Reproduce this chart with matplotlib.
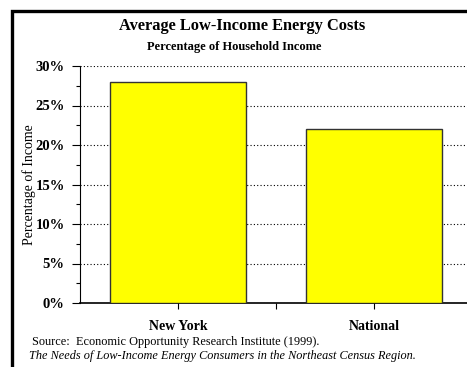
# Average low-income energy costs as share of household income

import matplotlib.pyplot as plt
from matplotlib.patches import Rectangle
from matplotlib.ticker import MultipleLocator, FuncFormatter

categories = ['New York', 'National']
values = [28, 22]

plt.rcParams['font.family'] = 'Liberation Serif'

fig = plt.figure(figsize=(4.67, 3.67), dpi=100)
W, H = 467, 367

# frame around the chart (runs off right and bottom edge)
fig.patches.append(Rectangle((11.5 / W, -0.05), 1.1, (H - 11) / H + 0.05,
                             transform=fig.transFigure, fill=False,
                             edgecolor='black', linewidth=2.4))

ax = fig.add_axes([80 / W, (H - 303) / H, 392 / W, 237 / H])
x = range(len(categories))
ax.bar(x, values, width=0.69, color='#ffff00', edgecolor='#333333',
       linewidth=1.0, zorder=3)

ax.set_xlim(-0.5, 1.5)
ax.set_ylim(0, 30)
ax.yaxis.set_major_locator(MultipleLocator(5))
ax.yaxis.set_minor_locator(MultipleLocator(2.5))
ax.yaxis.set_major_formatter(FuncFormatter(lambda v, p: '%d%%' % v))
ax.grid(axis='y', linestyle=(0, (1, 2)), color='black', linewidth=0.8, zorder=0)

ax.set_xticks(list(x))
ax.set_xticklabels(categories, fontweight='bold', fontsize=10)
ax.set_xticks([0.5], minor=True)
ax.tick_params(axis='x', which='both', direction='out', length=4, width=0.8, pad=8)
ax.tick_params(axis='y', which='major', direction='out', length=6, width=0.8,
               pad=5, labelsize=10.5)
ax.tick_params(axis='y', which='minor', direction='out', length=3, width=0.8)
for lab in ax.get_yticklabels():
    lab.set_fontweight('bold')

for s in ['top', 'right']:
    ax.spines[s].set_visible(False)
ax.spines['left'].set_linewidth(0.8)
ax.spines['bottom'].set_linewidth(1.2)

ax.set_ylabel('Percentage of Income', fontsize=10, va='center')
ax.yaxis.set_label_coords((29 - 80) / 392, 0.5)

fig.text(242 / W, 1 - 26 / H, 'Average Low-Income Energy Costs',
         ha='center', va='center', fontsize=11.8, fontweight='bold')
fig.text(234 / W, 1 - 47 / H, 'Percentage of Household Income',
         ha='center', va='center', fontsize=9, fontweight='bold')
fig.text(32 / W, 1 - 342 / H, 'Source:  Economic Opportunity Research Institute (1999).',
         ha='left', va='center', fontsize=8.8)
fig.text(29 / W, 1 - 356 / H,
         'The Needs of Low-Income Energy Consumers in the Northeast Census Region.',
         ha='left', va='center', fontsize=8.8, style='italic')

fig.savefig('out.png', dpi=100)
